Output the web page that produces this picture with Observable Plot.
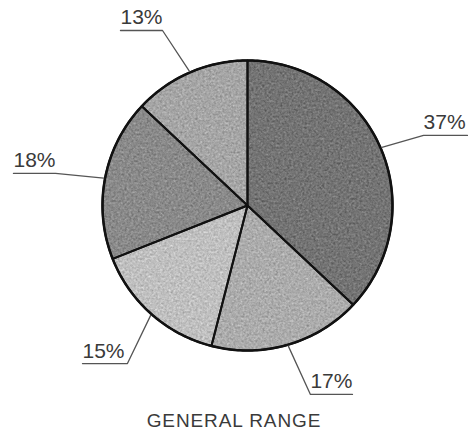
<!DOCTYPE html>
<html><head><meta charset="utf-8">
<script src="https://cdn.jsdelivr.net/npm/d3@7"></script>
<script src="https://cdn.jsdelivr.net/npm/@observablehq/plot@0.6"></script>
<style>
body{margin:0;background:#fff;font-family:"Liberation Sans",Arial,sans-serif}
#chart{width:468px;height:435px;position:relative;overflow:hidden}
#chart svg{display:block}
.title{position:absolute;left:0;width:468px;top:411px;text-align:center;font-size:19px;letter-spacing:0.9px;color:#3a3a3a;line-height:20px}
</style></head><body>
<div id="chart"></div>
<script>
// ---- data ----
const labels = ["37%", "17%", "15%", "18%", "13%"];
const shares = [37, 17, 15, 18, 13];
const title = "GENERAL RANGE";

// ---- styles / layout ----
const fills = ["#747474", "#acacac", "#c0c0c0", "#8a8a8a", "#a6a6a6"];
// elbow and underline end of each leader, in radius units
const leaderLayout = {
  "37%": {elbow: [1.214, 0.483], end: [1.517, 0.483]},
  "17%": {elbow: [0.434, -1.303], end: [0.724, -1.303]},
  "15%": {elbow: [-0.828, -1.090], end: [-1.138, -1.090]},
  "18%": {elbow: [-1.324, 0.221], end: [-1.614, 0.221]},
  "13%": {elbow: [-0.586, 1.207], end: [-0.876, 1.207]}
};
const W = 468, H = 400, R = 145, CX = 247, CY = 205;

const arcs = d3.pie().sort(null)(shares);
const polar = (a, r = 1) => ({x: r * Math.sin(a), y: r * Math.cos(a)});

function slicePts(a0, a1) {
  const n = Math.max(2, Math.ceil((a1 - a0) / (Math.PI / 180)));
  const pts = [{x: 0, y: 0}];
  for (let i = 0; i <= n; i++) pts.push(polar(a0 + (a1 - a0) * i / n));
  pts.push({x: 0, y: 0});
  return pts;
}
const circlePts = d3.range(0, 361).map(d => polar(d * Math.PI / 180));

const fillMarks = arcs.map((a, i) =>
  Plot.line(slicePts(a.startAngle, a.endAngle), {x: "x", y: "y", fill: fills[i], stroke: "none"}));
const edgeMarks = arcs.map(a =>
  Plot.line(slicePts(a.startAngle, a.endAngle), {x: "x", y: "y", stroke: "#111", strokeWidth: 2, strokeLinejoin: "round"}));

const leaders = [];
const texts = [];
arcs.forEach((a, i) => {
  const lab = labels[i];
  const mid = (a.startAngle + a.endAngle) / 2;
  const p = polar(mid, 1.01);
  const L = leaderLayout[lab];
  leaders.push({lab, x: p.x, y: p.y}, {lab, x: L.elbow[0], y: L.elbow[1]}, {lab, x: L.end[0], y: L.end[1]});
  texts.push({lab, x: Math.min(L.elbow[0], L.end[0]), y: L.end[1]});
});

const svg = Plot.plot({
  width: W, height: H,
  margin: 0,
  x: {domain: [-CX / R, (W - CX) / R], axis: null},
  y: {domain: [-(H - CY) / R, CY / R], axis: null},
  style: {background: "#fff", fontFamily: "'Liberation Sans', Arial, sans-serif"},
  marks: [
    ...fillMarks,
    ...edgeMarks,
    Plot.line(circlePts, {x: "x", y: "y", stroke: "#111", strokeWidth: 2.5}),
    Plot.line(leaders, {x: "x", y: "y", z: "lab", stroke: "#555", strokeWidth: 1.3}),
    Plot.text(texts, {x: "x", y: "y", text: "lab", textAnchor: "start", lineAnchor: "bottom", dy: -6, dx: 0, fontSize: 21, fill: "#3a3a3a"})
  ]
});

// paper grain texture on the slice fills
const ns = "http://www.w3.org/2000/svg";
const defs = document.createElementNS(ns, "defs");
defs.innerHTML = `<filter id="grain" filterUnits="userSpaceOnUse" x="0" y="0" width="${W}" height="${H}" color-interpolation-filters="sRGB">
<feTurbulence type="fractalNoise" baseFrequency="0.45" numOctaves="2" seed="4" result="noise"/>
<feColorMatrix in="noise" type="matrix" values="0.33 0.33 0.33 0 0  0.33 0.33 0.33 0 0  0.33 0.33 0.33 0 0  0 0 0 0 1" result="gn"/>
<feComposite in="SourceGraphic" in2="gn" operator="arithmetic" k1="0" k2="1" k3="0.5" k4="-0.25" result="tex"/>
<feComposite in="tex" in2="SourceGraphic" operator="in"/>
</filter>`;
svg.insertBefore(defs, svg.firstChild);
const groups = svg.querySelectorAll('g[aria-label="line"]');
for (let i = 0; i < fillMarks.length; i++) groups[i].setAttribute("filter", "url(#grain)");

const chart = document.getElementById("chart");
chart.appendChild(svg);
const t = document.createElement("div");
t.className = "title";
t.textContent = title;
chart.appendChild(t);
</script>
</body></html>
